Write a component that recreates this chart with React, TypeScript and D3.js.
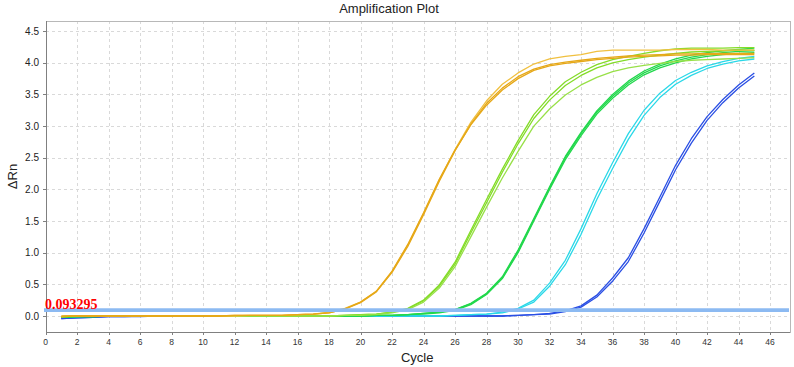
import { useEffect, useRef } from "react";
import * as d3 from "d3";

const cycles = [
  1, 2, 3, 4, 5, 6, 7, 8, 9, 10, 11, 12, 13, 14, 15, 16, 17, 18, 19, 20, 21, 22, 23,
  24, 25, 26, 27, 28, 29, 30, 31, 32, 33, 34, 35, 36, 37, 38, 39, 40, 41, 42, 43, 44, 45,
];

// ΔRn per cycle
const blue1 = [
  -0.04, -0.03, -0.02, -0.01, -0.01, 0, 0, 0, 0, 0, 0, 0, 0, 0, 0, 0, 0, 0, 0, 0, 0, 0, 0,
  0, 0, 0, 0, 0, 0, 0.01, 0.02, 0.04, 0.08, 0.16, 0.33, 0.6, 0.92, 1.38, 1.88, 2.38, 2.8, 3.15, 3.42, 3.65, 3.84,
];
const blue2 = [
  -0.04, -0.03, -0.02, -0.01, -0.01, -0.01, 0, 0, 0, 0, 0, 0, 0, 0, 0, 0, 0, 0, 0, 0, 0, 0, 0,
  0, 0, 0, 0, 0, 0, 0.01, 0.02, 0.03, 0.07, 0.14, 0.3, 0.55, 0.86, 1.31, 1.81, 2.31, 2.73, 3.09, 3.37, 3.6, 3.79,
];
const cyan1 = [
  -0.02, -0.01, 0, 0, 0, 0, 0, 0, 0, 0, 0, 0, 0, 0, 0, 0, 0, 0, 0, 0, 0, 0, 0,
  0, 0, 0.01, 0.02, 0.03, 0.06, 0.12, 0.25, 0.52, 0.88, 1.38, 1.93, 2.42, 2.88, 3.25, 3.52, 3.72, 3.85, 3.95, 4.02, 4.07, 4.1,
];
const cyan2 = [
  -0.02, -0.01, 0, 0, 0, 0, 0, 0, 0, 0, 0, 0, 0, 0, 0, 0, 0, 0, 0, 0, 0, 0, 0,
  0, 0, 0.01, 0.02, 0.03, 0.05, 0.11, 0.22, 0.47, 0.81, 1.29, 1.84, 2.33, 2.79, 3.17, 3.45, 3.66, 3.8, 3.91, 3.98, 4.03, 4.06,
];
const green1 = [
  -0.02, -0.01, -0.01, 0, 0, 0, 0, 0, 0, 0, 0, 0, 0, 0, 0, 0, 0, 0, 0, 0, 0.01, 0.01, 0.02,
  0.04, 0.06, 0.1, 0.2, 0.36, 0.62, 1.04, 1.54, 2.04, 2.52, 2.9, 3.24, 3.5, 3.71, 3.87, 3.98, 4.06, 4.12, 4.16, 4.19, 4.21, 4.23,
];
const green2 = [
  -0.02, -0.01, -0.01, 0, 0, 0, 0, 0, 0, 0, 0, 0, 0, 0, 0, 0, 0, 0, 0, 0, 0.01, 0.01, 0.02,
  0.04, 0.06, 0.1, 0.19, 0.35, 0.6, 1.02, 1.52, 2.02, 2.5, 2.88, 3.22, 3.47, 3.68, 3.84, 3.95, 4.03, 4.09, 4.13, 4.16, 4.18, 4.19,
];
const green3 = [
  -0.02, -0.01, -0.01, 0, 0, 0, 0, 0, 0, 0, 0, 0, 0, 0, 0, 0, 0, 0, 0, 0, 0.01, 0.01, 0.02,
  0.03, 0.05, 0.09, 0.18, 0.34, 0.59, 1.0, 1.5, 2.0, 2.47, 2.85, 3.19, 3.44, 3.65, 3.81, 3.92, 4.0, 4.06, 4.1, 4.13, 4.15, 4.16,
];
const lime1 = [
  -0.01, 0, 0, 0, 0, 0, 0, 0, 0, 0, 0, 0, 0, 0, 0, 0, 0, 0, 0.01, 0.02, 0.03, 0.06, 0.12,
  0.25, 0.49, 0.85, 1.35, 1.84, 2.32, 2.77, 3.18, 3.47, 3.7, 3.85, 3.97, 4.05, 4.1, 4.15, 4.19, 4.22, 4.23, 4.23, 4.23, 4.24, 4.24,
];
const lime2 = [
  -0.01, 0, 0, 0, 0, 0, 0, 0, 0, 0, 0, 0, 0, 0, 0, 0, 0, 0, 0.01, 0.02, 0.03, 0.06, 0.11,
  0.24, 0.47, 0.82, 1.31, 1.79, 2.27, 2.72, 3.12, 3.41, 3.64, 3.8, 3.92, 4.0, 4.05, 4.09, 4.12, 4.15, 4.17, 4.18, 4.19, 4.2, 4.2,
];
const lime3 = [
  -0.01, 0, 0, 0, 0, 0, 0, 0, 0, 0, 0, 0, 0, 0, 0, 0, 0, 0, 0.01, 0.01, 0.02, 0.05, 0.1,
  0.22, 0.44, 0.78, 1.25, 1.72, 2.18, 2.6, 3.0, 3.27, 3.49, 3.65, 3.77, 3.86, 3.92, 3.96, 3.99, 4.02, 4.04, 4.05, 4.06, 4.07, 4.08,
];
const orange1 = [
  -0.01, 0, 0, 0, 0, 0, 0, 0, 0, 0, 0, 0, 0.01, 0.01, 0.01, 0.02, 0.03, 0.06, 0.12, 0.22, 0.39, 0.7, 1.12,
  1.62, 2.15, 2.63, 3.06, 3.4, 3.66, 3.84, 3.98, 4.06, 4.1, 4.13, 4.18, 4.2, 4.2, 4.2, 4.2, 4.21, 4.21, 4.21, 4.2, 4.2, 4.2,
];
const orange2 = [
  -0.01, 0, 0, 0, 0, 0, 0, 0, 0, 0, 0, 0.01, 0.01, 0.01, 0.01, 0.02, 0.03, 0.05, 0.11, 0.21, 0.38, 0.69, 1.1,
  1.6, 2.13, 2.61, 3.03, 3.36, 3.6, 3.78, 3.9, 3.97, 4.01, 4.04, 4.07, 4.09, 4.11, 4.12, 4.13, 4.14, 4.14, 4.15, 4.15, 4.15, 4.15,
];
const orange3 = [
  0, 0, 0, 0, 0, 0, 0, 0, 0, 0, 0, 0.01, 0.01, 0.01, 0.01, 0.02, 0.03, 0.05, 0.11, 0.22, 0.39, 0.71, 1.13,
  1.63, 2.16, 2.62, 3.02, 3.33, 3.57, 3.75, 3.88, 3.95, 3.99, 4.02, 4.05, 4.07, 4.09, 4.1, 4.11, 4.12, 4.12, 4.13, 4.13, 4.13, 4.13,
];

const curves = [blue1, blue2, cyan1, cyan2, green1, green2, green3, lime1, lime2, lime3, orange1, orange2, orange3];
const curveColors = [
  "#2a4fe4", "#2a4fe4", "#2ad8e8", "#2ad8e8", "#22d84c", "#22d84c", "#22d84c",
  "#84dc28", "#84dc28", "#98e048", "#f0c040", "#e6a818", "#e6a818",
];

const xTicks = [0, 2, 4, 6, 8, 10, 12, 14, 16, 18, 20, 22, 24, 26, 28, 30, 32, 34, 36, 38, 40, 42, 44, 46];
const yTicks = [0, 0.5, 1, 1.5, 2, 2.5, 3, 3.5, 4, 4.5];
const yTickLabels = ["0.0", "0.5", "1.0", "1.5", "2.0", "2.5", "3.0", "3.5", "4.0", "4.5"];
const threshold = 0.093295;

const dims = { width: 794, height: 367, left: 45.5, right: 789, top: 21, bottom: 332 };
const sans = "'Liberation Sans', Arial, sans-serif";

export default function AmplificationPlot() {
  const ref = useRef<SVGSVGElement>(null);

  useEffect(() => {
    const svg = d3.select(ref.current);
    svg.selectAll("*").remove();

    const x = d3.scaleLinear().domain([0, 47.2]).range([dims.left, dims.right]);
    const y = d3.scaleLinear().domain([-0.253, 4.66]).range([dims.bottom, dims.top]);
    const px = (v: number) => Math.round(v) + 0.5;

    // grid
    const grid = svg.append("g").attr("stroke", "#d9d9d9").attr("stroke-dasharray", "3,3").attr("shape-rendering", "crispEdges");
    grid.selectAll(".gx").data(xTicks.slice(1)).join("line")
      .attr("x1", (d) => px(x(d))).attr("x2", (d) => px(x(d)))
      .attr("y1", dims.top).attr("y2", dims.bottom);
    grid.selectAll(".gy").data(yTicks).join("line")
      .attr("y1", (d) => px(y(d))).attr("y2", (d) => px(y(d)))
      .attr("x1", dims.left).attr("x2", dims.right);

    // frame
    svg.append("rect")
      .attr("x", px(dims.left)).attr("y", px(dims.top))
      .attr("width", Math.round(dims.right - dims.left)).attr("height", dims.bottom - dims.top)
      .attr("fill", "none").attr("stroke", "#b8b8b8").attr("shape-rendering", "crispEdges");
    const axes = svg.append("g").attr("stroke", "#808080").attr("shape-rendering", "crispEdges");
    axes.append("line").attr("x1", px(dims.left)).attr("x2", px(dims.left)).attr("y1", dims.top).attr("y2", dims.bottom + 0.5);
    axes.append("line").attr("x1", dims.left).attr("x2", dims.right + 0.5).attr("y1", px(dims.bottom)).attr("y2", px(dims.bottom));
    axes.selectAll(".tx").data(xTicks).join("line")
      .attr("x1", (d) => px(x(d))).attr("x2", (d) => px(x(d)))
      .attr("y1", dims.bottom).attr("y2", dims.bottom + 3);
    axes.selectAll(".ty").data(yTicks).join("line")
      .attr("y1", (d) => px(y(d))).attr("y2", (d) => px(y(d)))
      .attr("x1", dims.left - 3).attr("x2", dims.left);

    // tick labels
    svg.append("g").selectAll("text").data(xTicks).join("text")
      .attr("x", (d) => x(d)).attr("y", 344.5)
      .attr("text-anchor", "middle").attr("font-family", sans).attr("font-size", 8.5).attr("fill", "#333")
      .text((d) => d);
    svg.append("g").selectAll("text").data(yTicks).join("text")
      .attr("x", 39).attr("y", (d) => y(d)).attr("dy", "0.36em")
      .attr("text-anchor", "end").attr("font-family", sans).attr("font-size", 10).attr("fill", "#222")
      .text((_, i) => yTickLabels[i]);

    // curves
    const line = d3.line<number>().x((_, i) => x(cycles[i])).y((d) => y(d));
    svg.append("g").attr("fill", "none").attr("stroke-width", 1.3).attr("stroke-linejoin", "round")
      .selectAll("path").data(curves).join("path")
      .attr("stroke", (_, i) => curveColors[i])
      .attr("d", (d) => line(d));

    // threshold
    svg.append("line")
      .attr("x1", dims.left - 1.5).attr("x2", dims.right)
      .attr("y1", y(threshold)).attr("y2", y(threshold))
      .attr("stroke", "#8cbaf2").attr("stroke-width", 3.6);
    svg.append("text")
      .attr("x", dims.left - 0.5).attr("y", 309)
      .attr("font-family", "'Liberation Serif', 'Times New Roman', serif").attr("font-weight", "bold")
      .attr("font-size", 14).attr("fill", "#ff0000")
      .text(String(threshold));

    // titles
    svg.append("text").attr("x", 389).attr("y", 12.5).attr("text-anchor", "middle")
      .attr("font-family", sans).attr("font-size", 13).attr("fill", "#222").text("Amplification Plot");
    svg.append("text").attr("x", (dims.left + dims.right) / 2).attr("y", 362).attr("text-anchor", "middle")
      .attr("font-family", sans).attr("font-size", 13).attr("fill", "#222").text("Cycle");
    svg.append("text").attr("transform", `translate(16.5,${(dims.top + dims.bottom) / 2}) rotate(-90)`)
      .attr("text-anchor", "middle")
      .attr("font-family", sans).attr("font-size", 13).attr("fill", "#222").text("ΔRn");
  }, []);

  return (
    <svg
      ref={ref}
      width={dims.width}
      height={dims.height}
      style={{ position: "absolute", left: 0, top: 0, background: "#fff" }}
    ></svg>
  );
}
